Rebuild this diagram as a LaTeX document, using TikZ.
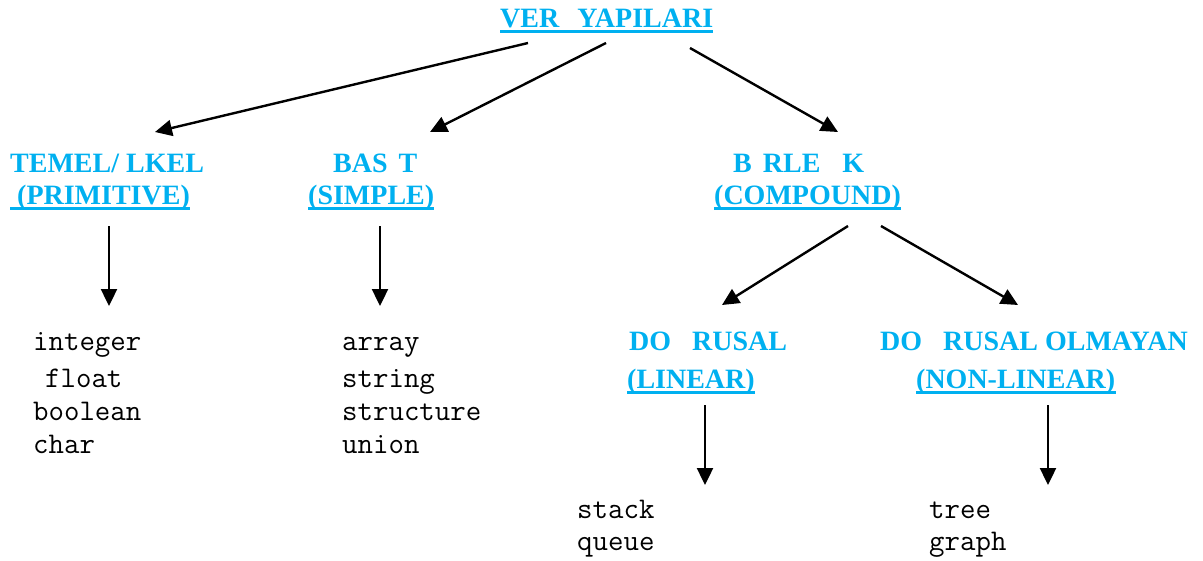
\documentclass[tikz,border=0pt]{standalone}
\usepackage{fontspec}
\setmainfont{Liberation Serif}
\usetikzlibrary{arrows.meta}
\definecolor{headcyan}{RGB}{0,176,240}
\tikzset{
  head/.style={anchor=base west, inner sep=0pt, text=headcyan,
    font=\fontsize{28}{32}\selectfont\bfseries},
  item/.style={anchor=base west, inner sep=0pt,
    font=\fontsize{30}{34}\selectfont\ttfamily},
  uline/.style={draw=headcyan, line width=2.3pt},
  arr/.style={line width=2.4pt, -{Triangle[length=17pt,width=16pt]}}
}
\begin{document}
\begin{tikzpicture}[x=1pt,y=-1pt]
\useasboundingbox (0,0) rectangle (1203,560);

% headings
\node[head] (title) at (500,27) {VER\hspace{18pt}YAPILARI};
\node[head] (t1) at (10,172) {TEMEL/ LKEL};
\node[head] (t2) at (10,204) {\hspace*{7pt}(PRIMITIVE)};
\node[head] (s1) at (333,172) {BAS\hspace{11pt}T};
\node[head] (s2) at (308,204) {(SIMPLE)};
\node[head] (c1) at (733,172) {B\hspace{11pt}RLE\hspace{22pt}K};
\node[head] (c2) at (714,204) {(COMPOUND)};
\node[head] (l1) at (629,350) {DO\hspace{21pt}RUSAL};
\node[head] (l2) at (627,388) {(LINEAR)};
\node[head] (n1) at (880,350) {DO\hspace{21pt}RUSAL OLMAYAN};
\node[head] (n2) at (916,388) {(NON-LINEAR)};

% underlines
\foreach \n in {title,t2,s2,c2,l2,n2}
  \draw[uline] ([yshift=-4.5pt]\n.base west) -- ([yshift=-4.5pt]\n.base east);

% leaf lists
\node[item] (i1) at (33,350) {integer};
\node[item] (i2) at (33,387) {\hspace*{12pt}float};
\node[item] (i3) at (33,420) {boolean};
\node[item] (i4) at (33,453) {char};
\node[item] (a1) at (342,350) {array};
\node[item] (a2) at (342,387) {string};
\node[item] (a3) at (342,420) {structure};
\node[item] (a4) at (342,453) {union};
\node[item] (q1) at (577,518) {stack};
\node[item] (q2) at (577,550) {queue};
\node[item] (g1) at (929,518) {tree};
\node[item] (g2) at (929,550) {graph};

% connectors
\draw[arr] ([shift={(28,16)}]title.base west) -- ([shift={(145,-40)}]t1.base west);
\draw[arr] ([shift={(106,16)}]title.base west) -- ([shift={(97,-40)}]s1.base west);
\draw[arr] ([shift={(190,21)}]title.base west) -- ([shift={(105,-40)}]c1.base west);
\draw[arr] ([shift={(99,22)}]t2.base west) -- ([shift={(76,-44)}]i1.base west);
\draw[arr] ([shift={(72,22)}]s2.base west) -- ([shift={(38,-44)}]a1.base west);
\draw[arr] ([shift={(134,22)}]c2.base west) -- ([shift={(93,-45)}]l1.base west);
\draw[arr] ([shift={(167,22)}]c2.base west) -- ([shift={(138,-45)}]n1.base west);
\draw[arr] ([shift={(78,17)}]l2.base west) -- ([shift={(128,-33)}]q1.base west);
\draw[arr] ([shift={(132,17)}]n2.base west) -- ([shift={(119,-33)}]g1.base west);
\end{tikzpicture}
\end{document}
